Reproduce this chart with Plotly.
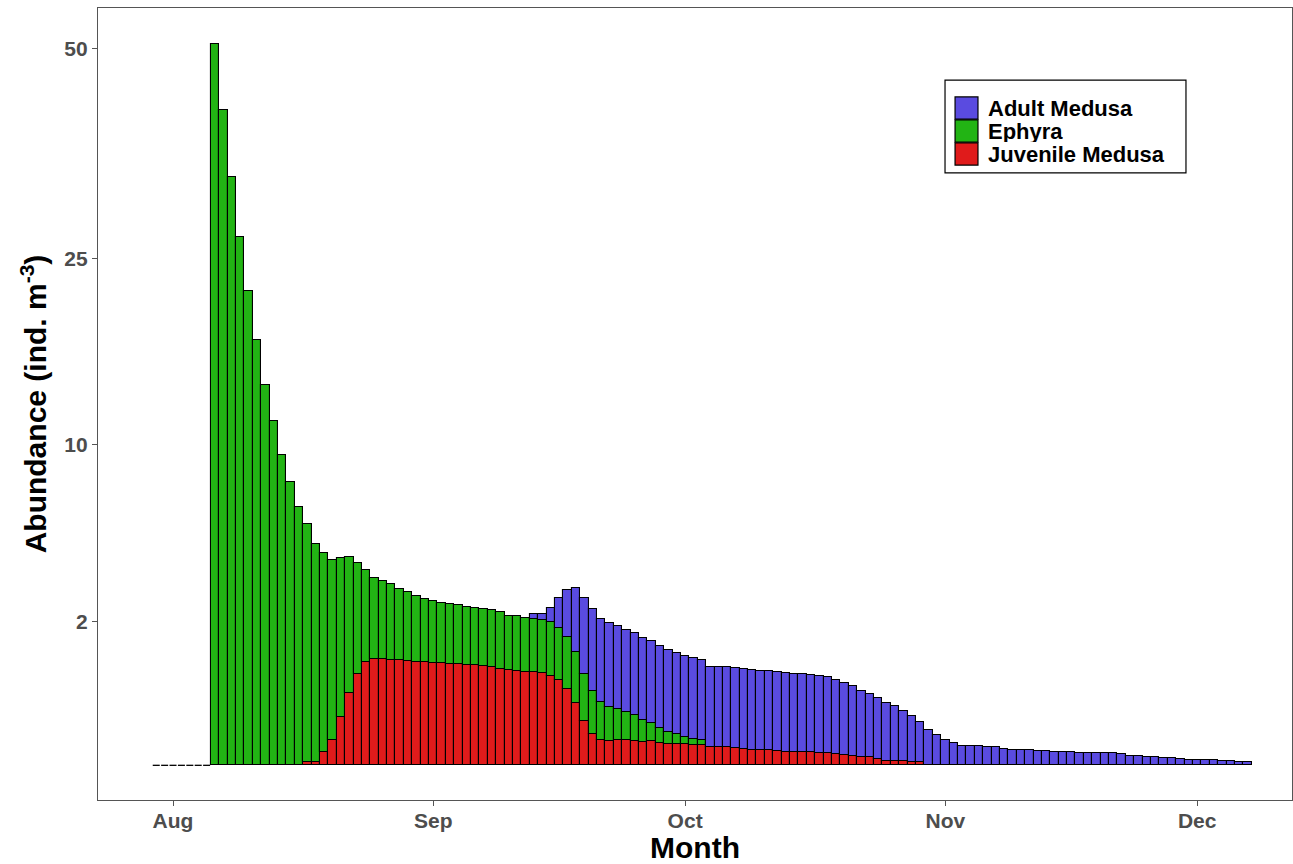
import numpy as np
import pandas as pd
import plotly.graph_objects as go

# Daily sampling dates (30 Jul - 7 Dec)
dates = pd.date_range("2019-07-30", "2019-12-07", freq="D")

# Abundance (ind. m^-3) per life stage, one value per day
juvenile_medusa = [
    0, 0, 0, 0, 0, 0, 0,
    0, 0, 0, 0, 0, 0, 0, 0, 0, 0, 0,
    0.0009, 0.0009, 0.0172, 0.063, 0.23, 0.504, 0.805, 1.03, 1.10, 1.10,
    1.078, 1.078, 1.058, 1.032, 1.032, 1.012, 1.012, 0.992, 0.992, 0.973,
    0.973, 0.953, 0.934, 0.908, 0.883, 0.865, 0.843, 0.843, 0.823, 0.781,
    0.708, 0.566, 0.374, 0.188, 0.0935, 0.0623, 0.0574, 0.0623, 0.0623, 0.0574,
    0.0528, 0.0574, 0.0484, 0.0429, 0.0429, 0.0429, 0.0389, 0.0389, 0.0336, 0.0336,
    0.0336, 0.0301, 0.0258, 0.0228, 0.0228, 0.0228, 0.0199, 0.0172, 0.0172, 0.0172,
    0.0172, 0.014, 0.014, 0.0118, 0.0097, 0.0079, 0.0062, 0.0062, 0.0042, 0.0018,
    0.0018, 0.0016, 0.0008, 0.0008,
    0, 0, 0, 0, 0, 0, 0, 0, 0, 0, 0, 0, 0, 0, 0, 0, 0, 0, 0, 0,
    0, 0, 0, 0, 0, 0, 0, 0, 0, 0, 0, 0, 0, 0, 0, 0, 0, 0, 0,
]

ephyra = [
    0, 0, 0, 0, 0, 0, 0,
    50.6, 41.7, 33.7, 27.1, 21.9, 17.6, 14.1, 11.5, 9.36, 7.82,
    6.51, 5.50, 4.62, 3.85, 3.15, 2.46, 1.81, 1.20, 0.829, 0.643,
    0.592, 0.557, 0.494, 0.463, 0.431, 0.390, 0.377, 0.350, 0.350, 0.345,
    0.327, 0.319, 0.319, 0.319, 0.309, 0.287, 0.297, 0.291, 0.277, 0.276,
    0.280, 0.266, 0.266, 0.253, 0.215, 0.182, 0.138, 0.114, 0.0935, 0.0746,
    0.0642, 0.0471, 0.0305, 0.0228, 0.0154, 0.0097, 0.0056, 0.0042, 0.0027,
    0, 0, 0, 0, 0, 0, 0, 0, 0, 0, 0, 0, 0, 0, 0, 0, 0, 0, 0, 0,
    0, 0, 0, 0, 0, 0, 0, 0, 0, 0, 0, 0, 0, 0, 0, 0, 0, 0, 0, 0,
    0, 0, 0, 0, 0, 0, 0, 0, 0, 0, 0, 0, 0, 0, 0, 0, 0, 0, 0, 0,
    0, 0, 0, 0, 0,
]

adult_medusa = [
    0, 0, 0, 0, 0, 0, 0,
    0, 0, 0, 0, 0, 0, 0, 0, 0, 0, 0, 0, 0, 0, 0, 0, 0, 0, 0, 0,
    0, 0, 0, 0, 0, 0, 0, 0, 0, 0, 0, 0, 0, 0, 0, 0, 0, 0,
    0.002, 0.0032, 0.0199, 0.0875, 0.212, 0.406, 0.571, 0.654, 0.675, 0.676,
    0.675, 0.659, 0.654, 0.659, 0.659, 0.654, 0.649, 0.638, 0.638, 0.638,
    0.622, 0.622, 0.622, 0.622, 0.622, 0.627, 0.627, 0.612, 0.612, 0.607,
    0.607, 0.592, 0.592, 0.572, 0.577, 0.571, 0.541, 0.508, 0.477, 0.428,
    0.386, 0.362, 0.327, 0.291, 0.248, 0.206, 0.158, 0.121, 0.0875, 0.0608,
    0.0471, 0.0374, 0.0374, 0.0374, 0.0336, 0.0336, 0.0268, 0.0228, 0.0228, 0.0228,
    0.0199, 0.0199, 0.0164, 0.0164, 0.0164, 0.014, 0.014, 0.014, 0.014, 0.014,
    0.0118, 0.0090, 0.0090, 0.0072, 0.0072, 0.0056, 0.0056, 0.0039, 0.0024, 0.0024,
    0.0024, 0.0024, 0.0016, 0.0016, 0.0009, 0.0009,
]

y_ticks = [2, 10, 25, 50]

# Stack order bottom -> top, legend order top -> bottom
stages = [
    ("Juvenile Medusa", juvenile_medusa, "#E01B1B"),
    ("Ephyra", ephyra, "#22B414"),
    ("Adult Medusa", adult_medusa, "#5A4BE0"),
]

FONT = "Arial, Liberation Sans, sans-serif"

fig = go.Figure()

# segments are stacked on the square-root scale; empty segments are skipped
base = np.zeros(len(dates))
for name, vals, color in stages:
    h = np.sqrt(np.asarray(vals, dtype=float))
    fig.add_trace(go.Bar(
        x=dates, y=np.where(h > 0, h, np.nan), base=base.copy(), name=name,
        marker=dict(color=color, line=dict(color="black", width=1.1)),
        showlegend=False,
    ))
    base = base + h

# days with no individuals at all: short flat outline at zero
total = np.asarray(juvenile_medusa) + np.asarray(ephyra) + np.asarray(adult_medusa)
empty = dates[total == 0]
fig.add_trace(go.Scatter(
    x=empty, y=np.zeros(len(empty)), mode="markers",
    marker=dict(symbol="line-ew", size=5, line=dict(color="black", width=1.3)),
    showlegend=False, hoverinfo="skip",
))

axis_common = dict(
    showline=True, mirror=True, linecolor="#555555", linewidth=1.2,
    ticks="outside", ticklen=5, tickwidth=1.2, tickcolor="#555555",
    showgrid=False, zeroline=False,
    tickfont=dict(family=FONT, size=21, color="#4D4D4D", weight="bold"),
)

fig.update_layout(
    width=1293, height=864,
    margin=dict(l=98, r=1, t=8, b=64),
    paper_bgcolor="white", plot_bgcolor="white",
    barmode="overlay", bargap=0,
    xaxis=dict(
        type="date", range=["2019-07-23 01:30", "2019-12-12 07:00"],
        tickformat="%b", dtick="M1", tick0="2019-08-01",
        ticklabelstandoff=-3,
        title=dict(text="Month", standoff=4,
                   font=dict(family=FONT, size=30, color="black", weight="bold")),
        **axis_common,
    ),
    yaxis=dict(
        range=[-0.342, 7.468],
        tickvals=np.sqrt(y_ticks), ticktext=[str(v) for v in y_ticks],
        title=dict(text="Abundance (ind. m<sup>-3</sup>)", standoff=8,
                   font=dict(family=FONT, size=30, color="black", weight="bold")),
        **axis_common,
    ),
)

# legend box drawn inside the panel
fig.add_shape(type="rect", xref="paper", yref="paper",
              x0=0.7094, x1=0.9112, y0=0.7917, y1=0.909,
              line=dict(color="black", width=1.2), fillcolor="white", layer="above")
row_y = [0.8737, 0.8447, 0.8157]
for (name, _, color), yc in zip(reversed(stages), row_y):
    fig.add_shape(type="rect", xref="paper", yref="paper",
                  x0=0.7178, x1=0.7370, y0=yc - 0.0140, y1=yc + 0.0140,
                  line=dict(color="black", width=1.2), fillcolor=color, layer="above")
    fig.add_annotation(x=0.7437, y=yc, xref="paper", yref="paper",
                       text=name, showarrow=False, xanchor="left", yanchor="middle",
                       height=22, valign="middle",
                       font=dict(family=FONT, size=22, color="black", weight="bold"))

fig.write_html("out.html")
